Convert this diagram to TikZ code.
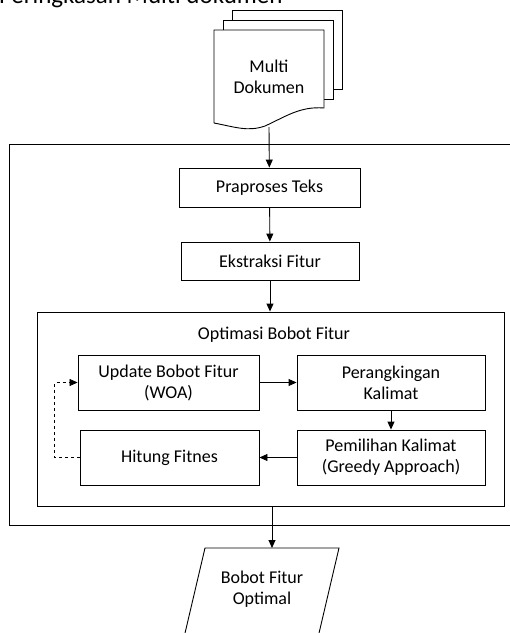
\documentclass[tikz,border=0pt]{standalone}
\usepackage{fontspec}
\setmainfont{Carlito}
\usepackage{tikz}
\usetikzlibrary{arrows.meta, positioning, calc}

\begin{document}
\begin{tikzpicture}[x=1pt, y=-1pt,
            font=\fontsize{18}{21}\selectfont,
            line width=0.9pt,
            procbox/.style={rectangle, draw, align=center, minimum height=55pt, inner sep=0pt},
            docpage/.style={draw, fill=white, line join=miter},
            arrow/.style={-{Triangle[length=8pt, width=7pt]}, line width=0.9pt}
        ]

            \useasboundingbox (0,0) rectangle (510,633);
            \clip (0,0) rectangle (510,633);

% Heading line
            \node[anchor=base east, inner sep=0pt, font=\fontsize{25}{30}\selectfont] (head) at (283,3) {Peringkasan Multi dokumen};

% Document stack
            \draw[docpage] (232,10) rectangle (342,89);
            \draw[docpage] (223,20) rectangle (333,99);
            \draw[docpage] (214,123) -- (214,30) -- (324,30) -- (324,108)
                .. controls (300,106) and (285,117) .. (265,126)
                .. controls (248,132) and (235,127) .. (214,123);
            \node[align=center] (docs) at (269,77) {Multi\\Dokumen};
            \coordinate (docend) at (269,127);

% Outer frame
            \draw (9.5,144) rectangle (530,525);

            \node[procbox, minimum width=181pt, minimum height=39pt] (prep) at (269.5,187.5) {Praproses Teks};
            \node[procbox, minimum width=178pt, minimum height=38pt] (feat) at (270,261) {Ekstraksi Fitur};

% Optimisation block
            \node[rectangle, draw, minimum width=467pt, minimum height=194pt] (opt) at (270.5,409) {};
            \node (optlabel) at (274,335) {Optimasi Bobot Fitur};

            \node[procbox, minimum width=181pt] (upd) at (168.5,382.5) {Update Bobot Fitur\\(WOA)};
            \node[procbox, minimum width=188pt] (rank) at (391,382.5) {Perangkingan\\Kalimat};
            \node[procbox, minimum width=188pt] (sel) at (391,457.5) {Pemilihan Kalimat\\(Greedy Approach)};
            \node[procbox, minimum width=179pt] (fit) at (169.5,457.5) {Hitung Fitnes};

% Output
            \draw (205,548) -- (339,548) -- (317.4,640) -- (183.4,640) -- cycle;
            \node[align=center] (out) at (262,589) {Bobot Fitur\\Optimal};
            \coordinate (outtop) at (272,548);

            \draw[arrow] (docend) -- (prep);
            \draw[arrow] (prep) -- (feat);
            \draw[arrow] (feat) -- (opt.north -| feat);
            \draw[arrow] (upd) -- (rank);
            \draw[arrow] (rank) -- (sel);
            \draw[arrow] (sel) -- (fit);
            \draw[arrow, dashed, line width=0.7pt] (fit.west) -- ++(-25,0) |- (upd.west);
            \draw[arrow] (opt.south -| outtop) -- (outtop);

        \end{tikzpicture}
\end{document}
